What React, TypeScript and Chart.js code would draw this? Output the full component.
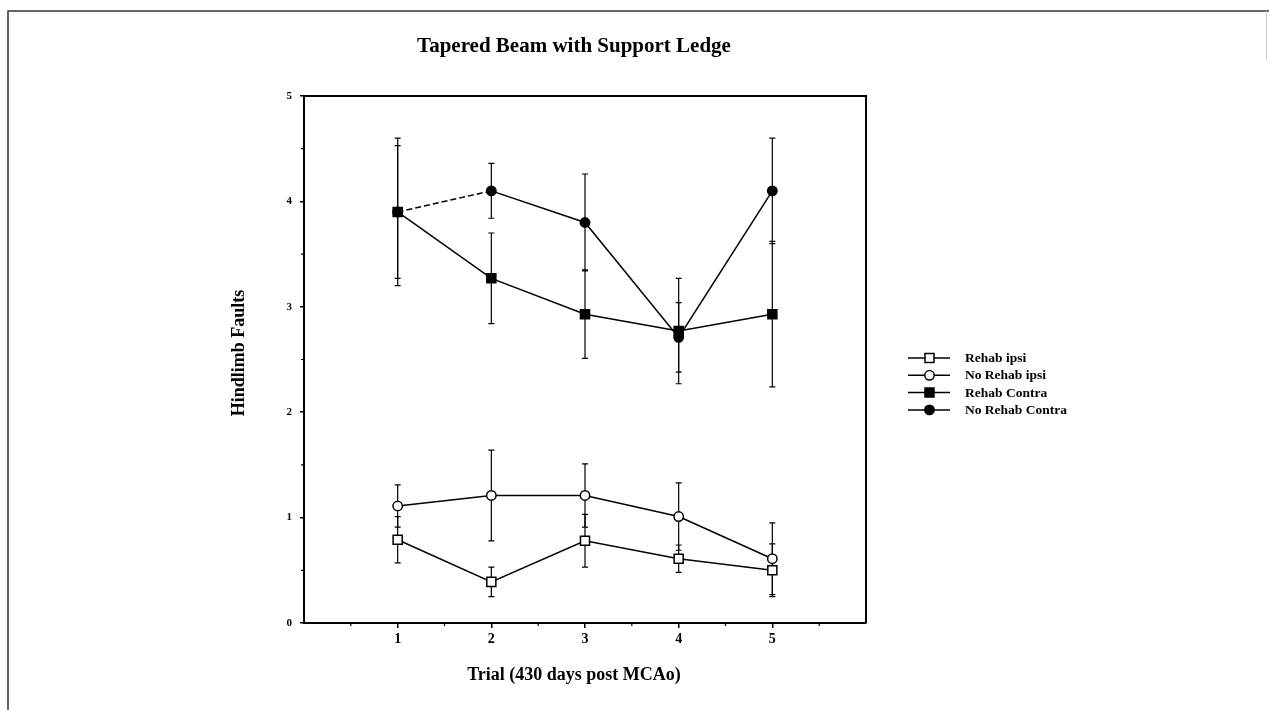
import React, { useEffect, useRef } from "react";
import { Chart, registerables } from "chart.js";

Chart.register(...registerables);

// ---- data ----
const trials = [1, 2, 3, 4, 5];
const seriesLabels = ["Rehab ipsi", "No Rehab ipsi", "Rehab Contra", "No Rehab Contra"];
const rehabIpsi = [0.79, 0.39, 0.78, 0.61, 0.5];
const rehabIpsiErr = [0.22, 0.14, 0.25, 0.13, 0.25];
const noRehabIpsi = [1.11, 1.21, 1.21, 1.01, 0.61];
const noRehabIpsiErr = [0.2, 0.43, 0.3, 0.32, 0.34];
const rehabContra = [3.9, 3.27, 2.93, 2.77, 2.93];
const rehabContraErr = [0.63, 0.43, 0.42, 0.5, 0.69];
const noRehabContra = [3.9, 4.1, 3.8, 2.71, 4.1];
const noRehabContraErr = [0.7, 0.26, 0.46, 0.33, 0.5];
const xTicks = [1, 2, 3, 4, 5];
const yTicks = [0, 1, 2, 3, 4, 5];
const xMinorTicks = [0.5, 1.5, 2.5, 3.5, 4.5, 5.5];
const yMinorTicks = [0.5, 1.5, 2.5, 3.5, 4.5];
const titleText = "Tapered Beam with Support Ledge";
const xTitle = "Trial (430 days post MCAo)";
const yTitle = "Hindlimb Faults";

const SERIF = "'Liberation Serif', 'DejaVu Serif', serif";

type Style = { shape: "rect" | "circle"; filled: boolean };
const styles: Style[] = [
  { shape: "rect", filled: false },
  { shape: "circle", filled: false },
  { shape: "rect", filled: true },
  { shape: "circle", filled: true },
];
const values = [rehabIpsi, noRehabIpsi, rehabContra, noRehabContra];
const errors = [rehabIpsiErr, noRehabIpsiErr, rehabContraErr, noRehabContraErr];

function drawMarker(ctx: CanvasRenderingContext2D, x: number, y: number, s: Style) {
  ctx.save();
  ctx.beginPath();
  if (s.shape === "rect") {
    ctx.rect(x - 4.5, y - 4.5, 9, 9);
  } else {
    ctx.arc(x, y, 4.7, 0, Math.PI * 2);
  }
  ctx.fillStyle = s.filled ? "#000" : "#fff";
  ctx.fill();
  ctx.lineWidth = 1.5;
  ctx.strokeStyle = "#000";
  ctx.stroke();
  ctx.restore();
}

const decorPlugin = {
  id: "decor",
  beforeDatasetsDraw(chart: any) {
    const ctx: CanvasRenderingContext2D = chart.ctx;
    const xs = chart.scales.x;
    const ys = chart.scales.y;
    ctx.save();
    ctx.strokeStyle = "#000";
    ctx.lineWidth = 1.2;
    values.forEach((vals, si) => {
      vals.forEach((v, i) => {
        const e = errors[si][i];
        const px = xs.getPixelForValue(trials[i]);
        const top = ys.getPixelForValue(v + e);
        const bot = ys.getPixelForValue(v - e);
        ctx.beginPath();
        ctx.moveTo(px, top);
        ctx.lineTo(px, bot);
        ctx.moveTo(px - 3, top);
        ctx.lineTo(px + 3, top);
        ctx.moveTo(px - 3, bot);
        ctx.lineTo(px + 3, bot);
        ctx.stroke();
      });
    });
    ctx.restore();
  },
  afterDraw(chart: any) {
    const ctx: CanvasRenderingContext2D = chart.ctx;
    const { left, right, top, bottom } = chart.chartArea;
    const xs = chart.scales.x;
    const ys = chart.scales.y;
    ctx.save();
    // page frame
    ctx.strokeStyle = "#333";
    ctx.lineWidth = 1.5;
    ctx.beginPath();
    ctx.moveTo(8, 710);
    ctx.lineTo(8, 11);
    ctx.lineTo(1269, 11);
    ctx.stroke();
    ctx.strokeStyle = "#ccc";
    ctx.lineWidth = 1;
    ctx.beginPath();
    ctx.moveTo(1266.5, 11);
    ctx.lineTo(1266.5, 60);
    ctx.stroke();

    // plot box top & right
    ctx.strokeStyle = "#000";
    ctx.lineWidth = 2;
    ctx.beginPath();
    ctx.moveTo(left, top);
    ctx.lineTo(right, top);
    ctx.lineTo(right, bottom);
    ctx.stroke();

    // minor ticks
    ctx.lineWidth = 1.2;
    ctx.beginPath();
    xMinorTicks.forEach((v) => {
      const px = xs.getPixelForValue(v);
      ctx.moveTo(px, bottom);
      ctx.lineTo(px, bottom + 3);
    });
    yMinorTicks.forEach((v) => {
      const py = ys.getPixelForValue(v);
      ctx.moveTo(left, py);
      ctx.lineTo(left - 3, py);
    });
    ctx.stroke();

    // titles
    ctx.fillStyle = "#000";
    ctx.textAlign = "center";
    ctx.textBaseline = "middle";
    ctx.font = `bold 21px ${SERIF}`;
    ctx.fillText(titleText, 574, 47);
    ctx.font = `bold 18px ${SERIF}`;
    ctx.fillText(xTitle, 574, 675);
    ctx.save();
    ctx.translate(239, 353);
    ctx.rotate(-Math.PI / 2);
    ctx.font = `bold 18px ${SERIF}`;
    ctx.fillText(yTitle, 0, 0);
    ctx.restore();

    // legend
    const rowY = [358, 375.3, 392.6, 409.9];
    seriesLabels.forEach((lab, i) => {
      const y = rowY[i];
      ctx.strokeStyle = "#000";
      ctx.lineWidth = 1.5;
      ctx.beginPath();
      ctx.moveTo(908, y);
      ctx.lineTo(950, y);
      ctx.stroke();
      drawMarker(ctx, 929.5, y, styles[i]);
      ctx.fillStyle = "#000";
      ctx.textAlign = "left";
      ctx.textBaseline = "middle";
      ctx.font = `bold 13.5px ${SERIF}`;
      ctx.fillText(lab, 965, y + 0.5);
    });
    ctx.restore();
  },
};

export default function App() {
  const ref = useRef<HTMLCanvasElement | null>(null);
  useEffect(() => {
    if (!ref.current) return;
    const datasets = values.map((vals, si) => {
      const s = styles[si];
      const ds: any = {
        label: seriesLabels[si],
        data: vals.map((v, i) => ({ x: trials[i], y: v })),
        borderColor: "#000",
        borderWidth: 1.5,
        pointStyle: s.shape,
        pointRadius: s.shape === "rect" ? 6.4 : 4.7,
        pointBackgroundColor: s.filled ? "#000" : "#fff",
        pointBorderColor: "#000",
        pointBorderWidth: 1.5,
        showLine: true,
        fill: false,
        tension: 0,
        order: 4 - si,
      };
      if (si === 3) {
        ds.order = 10;
        ds.segment = {
          borderDash: (c: any) => (c.p0DataIndex === 0 ? [6, 3] : undefined),
        };
      }
      return ds;
    });
    const chart = new Chart(ref.current, {
      type: "scatter",
      data: { datasets },
      options: {
        animation: false,
        responsive: false,
        devicePixelRatio: 1,
        layout: { padding: { top: 96, right: 403, left: 0, bottom: 0 } },
        plugins: { legend: { display: false }, tooltip: { enabled: false }, title: { display: false } },
        scales: {
          x: {
            type: "linear",
            min: 0,
            max: 6,
            afterBuildTicks: (sc: any) => {
              sc.ticks = xTicks.map((v) => ({ value: v }));
            },
            afterFit: (sc: any) => {
              sc.height = 87;
            },
            ticks: {
              color: "#000",
              font: { family: SERIF, size: 14, weight: "bold" },
              padding: 3,
              maxRotation: 0,
              autoSkip: false,
            },
            grid: { display: true, drawOnChartArea: false, drawTicks: true, tickLength: 5, color: "#000", lineWidth: 1.5 },
            border: { display: true, color: "#000", width: 2 },
          },
          y: {
            type: "linear",
            min: 0,
            max: 5,
            afterBuildTicks: (sc: any) => {
              sc.ticks = yTicks.map((v) => ({ value: v }));
            },
            afterFit: (sc: any) => {
              sc.width = 304;
            },
            ticks: {
              color: "#000",
              font: { family: SERIF, size: 11, weight: "bold" },
              padding: 8,
              autoSkip: false,
            },
            grid: { display: true, drawOnChartArea: false, drawTicks: true, tickLength: 4, color: "#000", lineWidth: 1.5 },
            border: { display: true, color: "#000", width: 2 },
          },
        },
      },
      plugins: [decorPlugin],
    } as any);
    return () => chart.destroy();
  }, []);
  return (
    <div style={{ position: "absolute", left: 0, top: 0, width: 1269, height: 710, background: "#fff" }}>
      <canvas ref={ref} width={1269} height={710} style={{ display: "block" }} />
    </div>
  );
}
